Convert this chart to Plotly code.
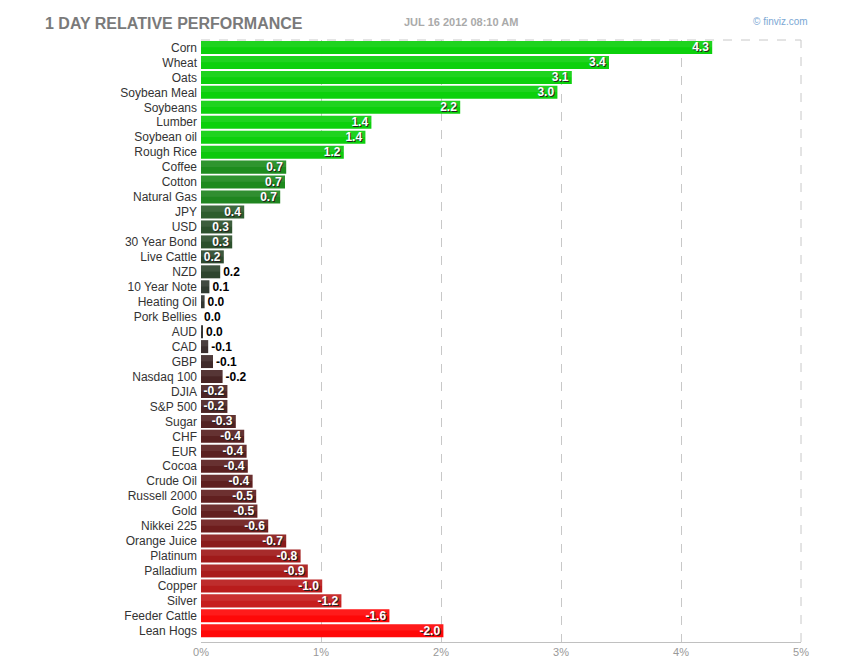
import plotly.graph_objects as go

# 1 day relative performance, finviz futures snapshot (JUL 16 2012 08:10 AM)
names = ["Corn", "Wheat", "Oats", "Soybean Meal", "Soybeans", "Lumber",
         "Soybean oil", "Rough Rice", "Coffee", "Cotton", "Natural Gas", "JPY",
         "USD", "30 Year Bond", "Live Cattle", "NZD", "10 Year Note",
         "Heating Oil", "Pork Bellies", "AUD", "CAD", "GBP", "Nasdaq 100",
         "DJIA", "S&P 500", "Sugar", "CHF", "EUR", "Cocoa", "Crude Oil",
         "Russell 2000", "Gold", "Nikkei 225", "Orange Juice", "Platinum",
         "Palladium", "Copper", "Silver", "Feeder Cattle", "Lean Hogs"]
perf = [4.26, 3.40, 3.09, 2.97, 2.16, 1.42,
        1.37, 1.19, 0.71, 0.70, 0.66, 0.36,
        0.26, 0.26, 0.19, 0.16, 0.07,
        0.03, 0.00, 0.01, -0.06, -0.10, -0.18,
        -0.22, -0.22, -0.29, -0.36, -0.38, -0.39, -0.43,
        -0.46, -0.47, -0.56, -0.71, -0.83,
        -0.89, -1.01, -1.17, -1.57, -2.02]
tick_vals = [0, 1, 2, 3, 4, 5]
tick_text = ["0%", "1%", "2%", "3%", "4%", "5%"]

# page body has an 8px margin, so the figure is drawn 8px smaller/shifted
OFF = 8
W, H = 850 - OFF, 670 - OFF
L, T = 201 - OFF, 40 - OFF
R = W - (801 - OFF)
B = H - (644 - OFF)

# colour stops (abs value -> rgb)
GREEN = [(0, (51, 51, 51)), (0.2, (45, 74, 45)), (0.35, (46, 92, 46)),
         (0.7, (30, 138, 30)), (1.0, (16, 185, 16)), (1.3, (12, 208, 12))]
RED = [(0, (51, 51, 51)), (0.1, (63, 42, 42)), (0.2, (74, 36, 36)),
       (0.4, (92, 32, 32)), (0.5, (100, 30, 30)), (0.6, (116, 28, 28)),
       (0.8, (156, 26, 26)), (1.0, (184, 28, 28)), (1.2, (200, 30, 30)),
       (1.5, (255, 8, 8))]


def pick_color(v):
    stops = GREEN if v >= 0 else RED
    a = abs(v)
    if a >= stops[-1][0]:
        c = stops[-1][1]
    else:
        for (x0, c0), (x1, c1) in zip(stops[:-1], stops[1:]):
            if x0 <= a <= x1:
                t = (a - x0) / (x1 - x0)
                c = tuple(round(p + (q - p) * t) for p, q in zip(c0, c1))
                break
    return "rgb(%d,%d,%d)" % c


# screen pixel -> paper coords
def px_x(x):
    return (x - OFF - L) / (W - L - R)


def px_y(y):
    return 1 - (y - OFF - T) / (H - T - B)


lengths = [abs(v) for v in perf]
labels = ["%.1f" % v for v in perf]
colors = [pick_color(v) for v in perf]
positions = ["inside" if abs(v) >= 0.185 else "outside" for v in perf]

fig = go.Figure()
fig.add_trace(go.Bar(
    y=names, x=lengths, orientation="h",
    marker=dict(color=colors, line=dict(width=0)),
    width=0.87,
    text=labels, textposition=positions, insidetextanchor="end",
    cliponaxis=False,
    insidetextfont=dict(family="Liberation Sans, Arial", size=12, color="white",
                        weight="bold", shadow="1px 1px 0px #222"),
    outsidetextfont=dict(family="Liberation Sans, Arial", size=12, color="black",
                         weight="bold"),
    hoverinfo="skip",
))
# lighter top half -> fake the vertical gradient
fig.add_trace(go.Bar(
    y=names, x=lengths, orientation="h",
    marker=dict(color="rgba(255,255,255,0.08)", line=dict(width=0)),
    width=0.42, offset=-0.435,
    hoverinfo="skip",
))

fig.update_layout(
    width=W, height=H,
    margin=dict(l=L, r=R, t=T, b=B),
    plot_bgcolor="white", paper_bgcolor="white",
    barmode="overlay", showlegend=False,
    uniformtext=dict(minsize=12, mode="show"),
    font=dict(family="Liberation Sans, Arial", size=12, color="#333"),
    xaxis=dict(range=[0, 5], tickvals=tick_vals, ticktext=tick_text,
               showgrid=True, gridcolor="#c8c8c8", griddash="dash",
               zeroline=False, showline=True, linecolor="#c0c0c0",
               linewidth=1, ticks="", fixedrange=True,
               tickfont=dict(size=11, color="#999")),
    yaxis=dict(autorange=False, range=[39.75, -0.5], showgrid=False,
               zeroline=False, ticks="", ticklabelstandoff=3,
               tickfont=dict(size=12, color="#333"), fixedrange=True),
    shapes=[
        dict(type="line", xref="paper", yref="paper", x0=0, x1=1, y0=1, y1=1,
             line=dict(color="#c8c8c8", width=1, dash="dash"), layer="below"),
        dict(type="line", xref="paper", yref="paper", x0=1, x1=1, y0=0, y1=1,
             line=dict(color="#c8c8c8", width=1, dash="dash"), layer="below"),
    ],
    annotations=[
        dict(text="<b>1 DAY RELATIVE PERFORMANCE</b>", xref="paper", yref="paper",
             x=px_x(43), y=px_y(23), xanchor="left", yanchor="middle",
             showarrow=False, font=dict(size=16, color="#7a7a7a")),
        dict(text="<b>JUL 16 2012 08:10 AM</b>", xref="paper", yref="paper",
             x=px_x(402), y=px_y(22), xanchor="left", yanchor="middle",
             showarrow=False, font=dict(size=11, color="#aaaaaa")),
        dict(text="\u00a9 finviz.com", xref="paper", yref="paper",
             x=px_x(751), y=px_y(21), xanchor="left", yanchor="middle",
             showarrow=False, font=dict(size=10, color="#7ba7d4")),
    ],
)

fig.write_html("out.html")
